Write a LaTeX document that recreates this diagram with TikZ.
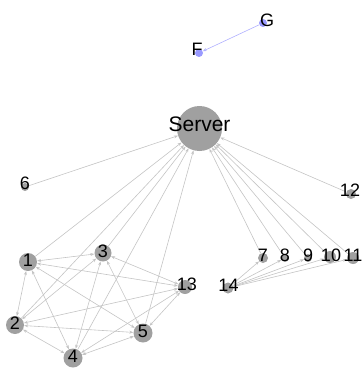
\documentclass[tikz,border=0pt]{standalone}
\usepackage{fontspec}
\setmainfont{Liberation Sans}
\usetikzlibrary{arrows.meta}
\definecolor{nodegray}{HTML}{A0A0A0}
\definecolor{edgegray}{HTML}{C4C4C4}
\definecolor{nodeblue}{HTML}{9A9AFF}
\definecolor{edgeblue}{HTML}{B0B0FF}
\tikzset{
  vtx/.style={circle, fill=nodegray, inner sep=0pt, minimum size=#1},
  bvtx/.style={circle, fill=nodeblue, inner sep=0pt, minimum size=#1},
  lbl/.style={inner sep=0pt, font=\fontsize{18}{18}\selectfont},
  biglbl/.style={inner sep=0pt, font=\fontsize{21}{21}\selectfont},
  edge/.style={draw=edgegray, line width=0.6pt, -{Stealth[length=4pt,width=3pt]}},
  bedge/.style={draw=edgegray, line width=0.6pt, {Stealth[length=4pt,width=3pt]}-{Stealth[length=4pt,width=3pt]}},
  blueedge/.style={draw=edgeblue, line width=0.6pt, -{Stealth[length=4pt,width=3pt]}}
}
\begin{document}
\begin{tikzpicture}[x=1pt,y=-1pt]
\useasboundingbox (0,0) rectangle (361,369);
% vertices
\node[vtx=45] (S) at (199.5,128.5) {};
\node[vtx=18] (n1) at (28,262) {};
\node[vtx=18] (n2) at (15,325) {};
\node[vtx=17] (n3) at (103,253) {};
\node[vtx=19] (n4) at (73,358) {};
\node[vtx=19] (n5) at (143,333) {};
\node[vtx=14] (n13) at (185,287) {};
\node[vtx=8] (n6) at (25,187) {};
\node[vtx=10] (n12) at (351,194) {};
\node[vtx=10] (n7) at (263,258) {};
\node[vtx=8] (n8) at (285,258) {};
\node[vtx=8] (n9) at (308,258) {};
\node[vtx=12] (n10) at (330,257) {};
\node[vtx=12] (n11) at (353,258) {};
\node[vtx=11] (n14) at (228,288) {};
\node[bvtx=8] (G) at (263,23) {};
\node[bvtx=8] (F) at (199,53) {};
% edges to server
\foreach \v in {n1,n2,n3,n4,n5,n6,n7,n8,n9,n10,n11,n12}
  \draw[edge] (\v) -- (S);
% 14 to 7..11
\foreach \v in {n7,n8,n9,n10,n11}
  \draw[edge] (n14) -- (\v);
% cluster
\draw[bedge] (n1) -- (n2);
\draw[bedge] (n1) -- (n3);
\draw[bedge] (n1) -- (n4);
\draw[bedge] (n1) -- (n5);
\draw[bedge] (n2) -- (n3);
\draw[bedge] (n2) -- (n4);
\draw[bedge] (n2) -- (n5);
\draw[bedge] (n3) -- (n4);
\draw[bedge] (n3) -- (n5);
\draw[bedge] (n4) -- (n5);
\foreach \v in {n1,n2,n3,n4,n5}
  \draw[bedge] (n13) -- (\v);
\draw[blueedge] (G) -- (F);
% labels
\node[biglbl] (lS) at (199.5,124) {Server};
\node[lbl] (l1) at (28,260) {1};
\node[lbl] (l2) at (15,323) {2};
\node[lbl] (l3) at (103,251) {3};
\node[lbl] (l4) at (73,356) {4};
\node[lbl] (l5) at (143,331) {5};
\node[lbl] (l13) at (187,284) {13};
\node[lbl] (l6) at (25,183) {6};
\node[lbl] (l12) at (350,190) {12};
\node[lbl] (l7) at (263,255) {7};
\node[lbl] (l8) at (285,255) {8};
\node[lbl] (l9) at (308,255) {9};
\node[lbl] (l10) at (331,255) {10};
\node[lbl] (l11) at (353,255) {11};
\node[lbl] (l14) at (228.5,285) {14};
\node[lbl] (lG) at (267,20) {G};
\node[lbl] (lF) at (197,49) {F};
\end{tikzpicture}
\end{document}
